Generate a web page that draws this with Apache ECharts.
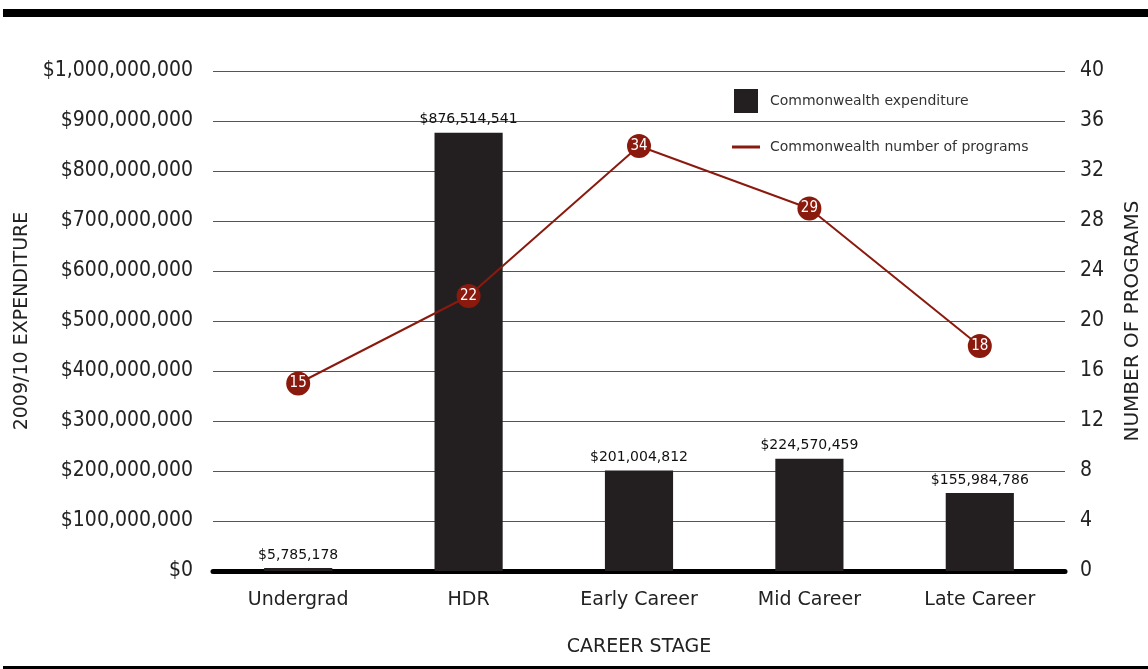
<!DOCTYPE html>
<html>
<head>
    <meta charset="utf-8">
    <title>Career stage expenditure</title>
    <script src="https://cdn.jsdelivr.net/npm/echarts@6.0.0/dist/echarts.min.js"></script>
    <style>
        html, body { margin: 0; padding: 0; background: #fff; }
    </style>
</head>
<body>
    <div id="main" style="width: 1148px;height:669px;"></div>

<script>
// data
const stages = ['Undergrad', 'HDR', 'Early Career', 'Mid Career', 'Late Career'];
const expenditure = [5785178, 876514541, 201004812, 224570459, 155984786];
const programs = [15, 22, 34, 29, 18];

const NARROW = '"Liberation Sans Narrow", "DejaVu Sans Condensed", "Liberation Sans", sans-serif';
const PLAIN = '"DejaVu Sans", "Noto Sans", sans-serif';
const RED = '#8b1a0e';

const money = v => '$' + Math.round(v).toLocaleString('en-US');

const myChart = echarts.init(document.getElementById('main'));

const option = {
    animation: false,
    grid: { left: 213, right: 83, top: 71, bottom: 98, containLabel: false, outerBoundsMode: 'none' },
    graphic: [
        { type: 'rect', shape: { x: 3, y: 9, width: 1145, height: 8 }, style: { fill: '#000' } },
        { type: 'rect', shape: { x: 3, y: 666, width: 1145, height: 3 }, style: { fill: '#000' } }
    ],
    legend: [{
        data: [{ name: 'Commonwealth expenditure', icon: 'rect', itemStyle: { color: '#231f20', borderWidth: 0 } }],
        left: 729, top: 84,
        itemWidth: 24, itemHeight: 24,
        textStyle: { fontFamily: PLAIN, fontSize: 14, color: '#333', padding: [0, 0, 0, 7] }
    }, {
        data: [{ name: 'Commonwealth number of programs', icon: 'rect', itemStyle: { color: RED, borderWidth: 0, opacity: 1 } }],
        left: 727, top: 135,
        itemWidth: 28, itemHeight: 3,
        textStyle: { fontFamily: PLAIN, fontSize: 14, color: '#333', padding: [0, 0, 0, 5] }
    }],
    xAxis: {
        type: 'category',
        data: stages,
        name: 'CAREER STAGE',
        nameLocation: 'middle',
        nameGap: 67,
        nameTextStyle: { fontFamily: PLAIN, fontSize: 19, color: '#222' },
        axisLine: { lineStyle: { color: '#000', width: 5 } },
        axisTick: { show: false },
        axisLabel: { fontFamily: PLAIN, fontSize: 19, color: '#222', margin: 20 }
    },
    yAxis: [{
        type: 'value',
        min: 0, max: 1000000000, interval: 100000000,
        name: '2009/10 EXPENDITURE',
        nameLocation: 'middle',
        nameRotate: 90,
        nameGap: 181,
        nameTextStyle: { fontFamily: PLAIN, fontSize: 19, color: '#222' },
        axisLine: { show: false },
        axisTick: { show: false },
        axisLabel: { fontFamily: NARROW, fontSize: 21, color: '#222', margin: 20, formatter: money },
        splitLine: { lineStyle: { color: '#555', width: 1 } }
    }, {
        type: 'value',
        min: 0, max: 40, interval: 4,
        name: 'NUMBER OF PROGRAMS',
        nameLocation: 'middle',
        nameRotate: 90,
        nameGap: 58,
        nameTextStyle: { fontFamily: PLAIN, fontSize: 20, color: '#222' },
        axisLine: { show: false },
        axisTick: { show: false },
        axisLabel: { fontFamily: NARROW, fontSize: 21, color: '#222', margin: 15 },
        splitLine: { show: false }
    }],
    series: [{
        name: 'Commonwealth expenditure',
        type: 'bar',
        data: expenditure,
        barWidth: '40%',
        itemStyle: { color: '#231f20' },
        label: {
            show: true,
            position: 'top',
            distance: 6,
            fontFamily: PLAIN,
            fontSize: 14,
            color: '#111',
            formatter: p => money(p.value)
        }
    }, {
        name: 'Commonwealth number of programs',
        type: 'line',
        yAxisIndex: 1,
        data: programs,
        lineStyle: { color: RED, width: 2 },
        itemStyle: { color: RED, borderWidth: 0 },
        symbol: 'circle',
        symbolSize: 24,
        z: 5,
        label: {
            show: true,
            position: 'inside',
            fontFamily: NARROW,
            fontSize: 15,
            color: '#fff'
        }
    }]
};
myChart.setOption(option);
</script>
</body>
</html>
